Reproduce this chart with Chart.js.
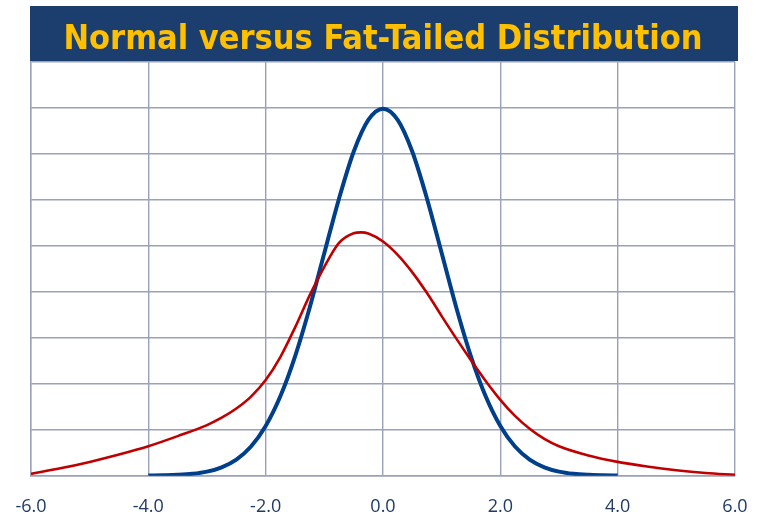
<!DOCTYPE html>
<html>
<head>
<meta charset="utf-8">
<script src="https://cdn.jsdelivr.net/npm/chart.js@4"></script>
<style>
  html, body { margin: 0; padding: 0; background: #ffffff; }
  #wrap { position: relative; width: 758px; height: 517px; }
</style>
</head>
<body>
<div id="wrap"><canvas id="distChart"></canvas></div>
<script>
// ===== データ =====
const xTicks = [-6, -4, -2, 0, 2, 4, 6];

// 正規分布（青）
const normalX = [-4, -3.75, -3.5, -3.25, -3, -2.75, -2.5, -2.25, -2, -1.75, -1.5, -1.25, -1, -0.75, -0.5, -0.25,
  0, 0.25, 0.5, 0.75, 1, 1.25, 1.5, 1.75, 2, 2.25, 2.5, 2.75, 3, 3.25, 3.5, 3.75, 4];
const normalY = [0.0001, 0.0004, 0.0009, 0.0020, 0.0044, 0.0091, 0.0175, 0.0317, 0.0540, 0.0863, 0.1295, 0.1826,
  0.2420, 0.3011, 0.3521, 0.3867, 0.3989, 0.3867, 0.3521, 0.3011, 0.2420, 0.1826, 0.1295, 0.0863, 0.0540,
  0.0317, 0.0175, 0.0091, 0.0044, 0.0020, 0.0009, 0.0004, 0.0001];

// ファットテール分布（赤）
const fatX = [-6, -5.5, -5, -4.5, -4, -3.5, -3, -2.75, -2.5, -2.25, -2, -1.75, -1.5, -1.25, -1, -0.75, -0.5, -0.375,
  -0.25, 0, 0.25, 0.5, 0.75, 1, 1.25, 1.5, 1.75, 2, 2.25, 2.5, 2.75, 3, 3.5, 4, 4.5, 5, 5.5, 6];
const fatY = [0.002, 0.008, 0.015, 0.023, 0.032, 0.043, 0.055, 0.063, 0.073, 0.086, 0.104, 0.129, 0.161, 0.196,
  0.227, 0.253, 0.2635, 0.2645, 0.2633, 0.2545, 0.240, 0.221, 0.1985, 0.1735, 0.149, 0.1255, 0.103, 0.0825,
  0.065, 0.051, 0.040, 0.032, 0.022, 0.015, 0.010, 0.006, 0.003, 0.001];

const toPoints = (xs, ys) => xs.map((x, i) => ({ x: x, y: ys[i] }));

// タイトル帯の背景
const bannerPlugin = {
  id: "banner",
  beforeDraw(chart) {
    const ctx = chart.ctx;
    ctx.save();
    ctx.fillStyle = "#1b3e6f";
    ctx.fillRect(30, 6, 708, 55);
    ctx.restore();
  }
};

new Chart(document.getElementById("distChart"), {
  type: "line",
  data: {
    datasets: [
      {
        label: "Fat-Tailed",
        data: toPoints(fatX, fatY),
        borderColor: "#c00000",
        borderWidth: 2.6,
        pointRadius: 0,
        cubicInterpolationMode: "monotone",
        fill: false
      },
      {
        label: "Normal",
        data: toPoints(normalX, normalY),
        borderColor: "#003f8a",
        borderWidth: 4,
        pointRadius: 0,
        cubicInterpolationMode: "monotone",
        fill: false
      }
    ]
  },
  options: {
    responsive: true,
    maintainAspectRatio: false,
    animation: false,
    layout: {
      padding: { top: 0, left: 31, right: 23, bottom: 0 }
    },
    plugins: {
      legend: { display: false },
      tooltip: { enabled: false },
      title: {
        display: true,
        text: "Normal versus Fat-Tailed Distribution",
        color: "#ffc000",
        font: { family: "DejaVu Sans Condensed", size: 34, weight: "bold", lineHeight: 1.2 },
        padding: { top: 19.5, bottom: 1.4 }
      }
    },
    scales: {
      x: {
        type: "linear",
        min: -6,
        max: 6,
        afterBuildTicks: s => { s.ticks = xTicks.map(v => ({ value: v })); },
        afterFit: s => { s.height = 41.3; s.paddingLeft = 0; s.paddingRight = 0; },
        grid: { color: "#9aa1b9", lineWidth: 1.4, drawTicks: false },
        border: { color: "#9aa1b9", width: 1.4 },
        ticks: {
          color: "#1f3b66",
          padding: 20,
          maxRotation: 0,
          font: { family: "Open Sans", size: 18 },
          callback: v => Number(v).toFixed(1)
        }
      },
      y: {
        min: 0,
        max: 0.45,
        afterFit: s => { s.width = 0; },
        ticks: { display: false, stepSize: 0.05 },
        grid: { color: "#9aa1b9", lineWidth: 1.4, drawTicks: false },
        border: { color: "#9aa1b9", width: 1.4 }
      }
    }
  },
  plugins: [bannerPlugin]
});
</script>
</body>
</html>
